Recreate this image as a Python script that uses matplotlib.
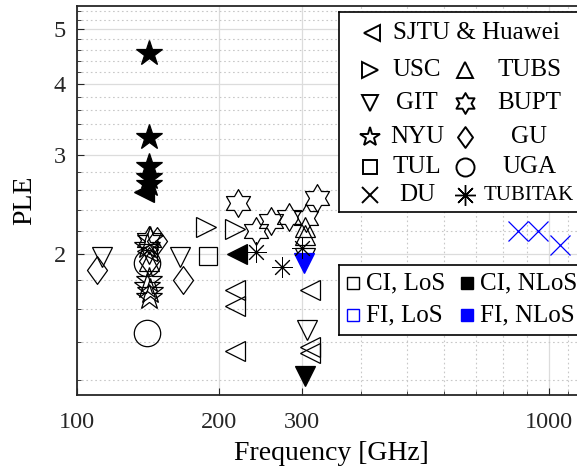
import matplotlib
matplotlib.use("Agg")
import matplotlib.pyplot as plt
import numpy as np
from matplotlib.path import Path
from matplotlib.ticker import FixedLocator, NullFormatter

plt.rcParams['font.family'] = ['Liberation Serif', 'DejaVu Serif']

# ---------- data: (frequency GHz, PLE, model) per group ----------
sjtu_f = [139, 218, 216, 216, 216, 312, 312, 312, 141]
sjtu_ple = [2.58, 2.00, 1.73, 1.62, 1.35, 1.73, 1.37, 1.34, 2.03]
sjtu_kind = ['CI-NLoS', 'CI-NLoS', 'CI-LoS', 'CI-LoS', 'CI-LoS', 'CI-LoS', 'CI-LoS', 'CI-LoS', 'CI-LoS']

usc_f = [188, 216]
usc_ple = [2.24, 2.22]
usc_kind = ['CI-LoS', 'CI-LoS']

git_f = [113, 165, 305, 307, 305, 303, 142]
git_ple = [1.98, 1.98, 1.97, 1.47, 1.22, 1.93, 2.00]
git_kind = ['CI-LoS', 'CI-LoS', 'CI-LoS', 'CI-LoS', 'CI-NLoS', 'FI-NLoS', 'CI-LoS']

nyu_f = [142, 142, 142, 142, 142, 143, 141, 142, 141, 143, 142]
nyu_ple = [4.55, 3.22, 2.87, 2.74, 2.66, 2.13, 2.07, 1.80, 1.76, 1.72, 1.68]
nyu_kind = ['CI-NLoS'] * 5 + ['CI-LoS'] * 6

tul_f = [190]
tul_ple = [1.99]
tul_kind = ['CI-LoS']

du_f = [859, 948, 1055]
du_ple = [2.20, 2.20, 2.08]
du_kind = ['FI-LoS', 'FI-LoS', 'FI-LoS']

tubs_f = [304, 305, 142]
tubs_ple = [2.24, 2.16, 1.95]
tubs_kind = ['CI-LoS', 'CI-LoS', 'CI-LoS']

bupt_f = [219, 240, 258, 282, 306, 322, 142]
bupt_ple = [2.47, 2.20, 2.29, 2.33, 2.32, 2.52, 2.12]
bupt_kind = ['CI-LoS'] * 7

gu_f = [110, 168, 148, 142]
gu_ple = [1.88, 1.80, 2.11, 1.95]
gu_kind = ['CI-LoS'] * 4

uga_f = [141, 141]
uga_ple = [1.93, 1.45]
uga_kind = ['CI-LoS', 'CI-LoS']

tubitak_f = [240, 272, 300]
tubitak_ple = [2.02, 1.90, 2.05]
tubitak_kind = ['CI-LoS'] * 3

# ---------- custom markers ----------
ang = np.pi / 2 + np.arange(12) * np.pi / 6
rad = np.where(np.arange(12) % 2 == 0, 1.0, 0.577)
hexagram = Path(np.column_stack([rad * np.cos(ang), rad * np.sin(ang)]).tolist() + [[0, 1]], closed=True)
diamond = Path([[0, 1], [0.72, 0], [0, -1], [-0.72, 0], [0, 1]], closed=True)
asterisk = (8, 2, 0)

BLUE = '#0000ff'
groups = [
    ('SJTU & Huawei', sjtu_f, sjtu_ple, sjtu_kind, '<', 14),
    ('USC', usc_f, usc_ple, usc_kind, '>', 14),
    ('GIT', git_f, git_ple, git_kind, 'v', 15),
    ('NYU', nyu_f, nyu_ple, nyu_kind, '*', 19),
    ('TUL', tul_f, tul_ple, tul_kind, 's', 13),
    ('DU', du_f, du_ple, du_kind, 'x', 14),
    ('TUBS', tubs_f, tubs_ple, tubs_kind, '^', 15),
    ('BUPT', bupt_f, bupt_ple, bupt_kind, hexagram, 20),
    ('GU', gu_f, gu_ple, gu_kind, diamond, 20),
    ('UGA', uga_f, uga_ple, uga_kind, 'o', 19),
    ('TUBITAK', tubitak_f, tubitak_ple, tubitak_kind, asterisk, 15),
]

W, H = 577, 469
fig = plt.figure(figsize=(W / 100, H / 100), dpi=100)
ax = fig.add_axes([77 / W, (H - 395) / H, (586 - 77) / W, (395 - 6) / H])
ax.set_xscale('log')
ax.set_yscale('log')
ax.set_xlim(100, 1200)
ax.set_ylim(1.128, 5.5)

ax.xaxis.set_major_locator(FixedLocator([100, 200, 300, 1000]))
ax.xaxis.set_minor_locator(FixedLocator([400, 500, 600, 700, 800, 900, 1100]))
ax.set_xticklabels(['100', '200', '300', '1000'])
ax.xaxis.set_minor_formatter(NullFormatter())
ax.yaxis.set_major_locator(FixedLocator([2, 3, 4, 5]))
ax.set_yticklabels(['2', '3', '4', '5'])
yminor = [v for v in np.round(np.arange(1.2, 5.5, 0.2), 1) if v not in (2.0, 3.0, 4.0, 5.0)]
ax.yaxis.set_minor_locator(FixedLocator(yminor))
ax.yaxis.set_minor_formatter(NullFormatter())

ax.grid(True, which='major', color='#dcdcdc', lw=0.9, ls='-')
ax.grid(True, which='minor', color='#c8c8c8', lw=0.8, ls=(0, (1.5, 2.5)))
ax.set_axisbelow(True)
ax.tick_params(which='both', direction='in', labelsize=17.5, colors='#262626')
ax.tick_params(axis='x', which='both', pad=12)
ax.tick_params(axis='y', which='both', pad=8)
ax.tick_params(which='major', length=5)
ax.tick_params(which='minor', length=3)
for sp in ax.spines.values():
    sp.set_color('#262626')
    sp.set_linewidth(1.3)

for name, f, p, kind, mk, ms in groups:
    lw = 0.7 if name == 'TUBITAK' else 0.9
    for fi, pi, k in zip(f, p, kind):
        col = BLUE if k.startswith('FI') else 'black'
        face = col if k.endswith('NLoS') else 'none'
        ax.plot(fi, pi, ls='none', marker=mk, ms=ms, mec=col, mfc=face, mew=lw)

ax.set_xlabel('Frequency [GHz]', fontsize=20, labelpad=6)
ax.set_ylabel('PLE', fontsize=20, labelpad=12)

# ---------- legend 1: institutions ----------
lg = fig.add_axes([339 / W, (H - 212) / H, (600 - 339) / W, 200 / H])
lg.set_xlim(339, 600)
lg.set_ylim(212, 12)
lg.set_xticks([])
lg.set_yticks([])
lg.set_facecolor('white')
for sp in lg.spines.values():
    sp.set_color('black')
    sp.set_linewidth(1.2)

lg_ms = {'<': 11, '>': 11, 'v': 11, '*': 15, 's': 10, 'x': 11, '^': 11, 'o': 13}
rows = [33, 70, 103, 137, 167, 195]
lg.plot(372, rows[0], marker='<', ms=11, mec='black', mfc='none', mew=1.4)
lg.text(393, rows[0], 'SJTU & Huawei', fontsize=18, va='center', ha='left')
col1 = groups[1:6]
col2 = groups[6:]
for (name, f, p, kind, mk, ms), y in zip(col1, rows[1:]):
    lg.plot(370, y, marker=mk, ms=lg_ms.get(mk, 14), mec='black', mfc='none', mew=1.4)
    lg.text(417, y, name, fontsize=18, va='center', ha='center')
for (name, f, p, kind, mk, ms), y in zip(col2, rows[1:]):
    mss = lg_ms.get(mk, 15) if isinstance(mk, str) else 15
    lw = 1.0 if name == 'TUBITAK' else 1.4
    lg.plot(465, y, marker=mk, ms=mss, mec='black', mfc='none', mew=lw)
    if name == 'TUBITAK':
        lg.text(484, y, name, fontsize=15, va='center', ha='left')
    else:
        lg.text(529, y, name, fontsize=18, va='center', ha='center')

# ---------- legend 2: models ----------
lg2 = fig.add_axes([339 / W, (H - 335) / H, (600 - 339) / W, 70 / H])
lg2.set_xlim(339, 600)
lg2.set_ylim(335, 265)
lg2.set_xticks([])
lg2.set_yticks([])
lg2.set_facecolor('white')
for sp in lg2.spines.values():
    sp.set_color('black')
    sp.set_linewidth(1.2)
models = [('CI, LoS', 'black', 'none', 353, 283), ('CI, NLoS', 'black', 'black', 467, 283),
          ('FI, LoS', BLUE, 'none', 353, 315), ('FI, NLoS', BLUE, BLUE, 467, 315)]
for label, c, fc, x0, y0 in models:
    lg2.plot(x0, y0, marker='s', ms=8, mec=c, mfc=fc, mew=1.0)
    lg2.text(x0 + 13, y0, label, fontsize=18, va='center', ha='left')

fig.savefig('out.png', dpi=100)
